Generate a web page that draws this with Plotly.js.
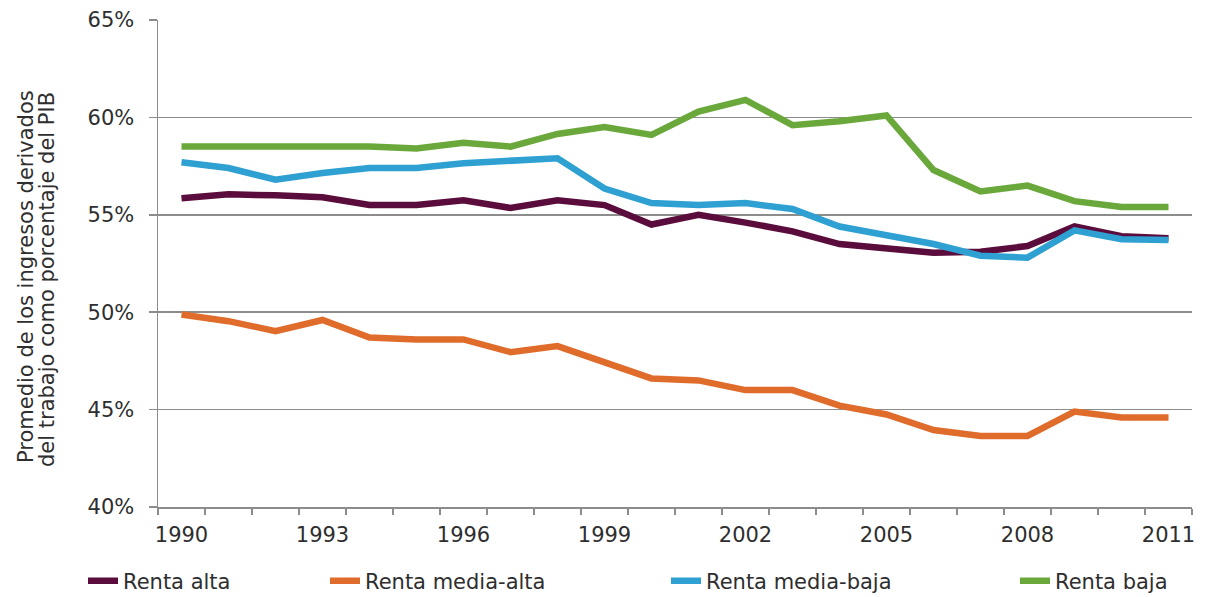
<!DOCTYPE html>
<html>
<head>
<meta charset="utf-8">
<script src="https://cdn.plot.ly/plotly-3.0.1.min.js"></script>
<style>html,body{margin:0;padding:0;background:#fff;}#chart{width:1207px;height:597px;}</style>
</head>
<body>
<div id="chart"></div>
<script>
var years = [1990,1991,1992,1993,1994,1995,1996,1997,1998,1999,2000,2001,2002,2003,2004,2005,2006,2007,2008,2009,2010,2011];
var rentaAlta = [55.85,56.05,56.0,55.9,55.5,55.5,55.75,55.35,55.75,55.5,54.5,55.0,54.6,54.15,53.5,53.25,53.05,53.1,53.4,54.4,53.9,53.8];
var rentaMediaAlta = [49.88,49.54,49.03,49.6,48.7,48.6,48.6,47.95,48.26,47.4,46.6,46.5,46.0,46.0,45.2,44.75,43.95,43.65,43.65,44.9,44.6,44.6];
var rentaMediaBaja = [57.7,57.4,56.8,57.15,57.4,57.4,57.65,57.75,57.9,56.35,55.6,55.5,55.6,55.3,54.4,53.95,53.5,52.9,52.8,54.2,53.75,53.7];
var rentaBaja = [58.5,58.5,58.5,58.5,58.5,58.4,58.7,58.5,59.15,59.5,59.1,60.3,60.9,59.6,59.8,60.1,57.3,56.2,56.5,55.7,55.4,55.4];
var seriesNames = ["Renta alta","Renta media-alta","Renta media-baja","Renta baja"];
var xTickVals = [1990,1993,1996,1999,2002,2005,2008,2011];
var yTickVals = [40,45,50,55,60,65];
var yTickText = ["40%","45%","50%","55%","60%","65%"];
var yTitleLines = ["Promedio de los ingresos derivados","del trabajo como porcentaje del PIB"];

var colors = ["#5a0c3c","#e06c2c","#2ea0d2","#6aa83c"];
var seriesData = [rentaAlta, rentaMediaAlta, rentaMediaBaja, rentaBaja];
var legendIds = ["legend","legend2","legend3","legend4"];

var traces = seriesData.map(function(d,i){
  return {x: years, y: d, name: seriesNames[i], type:'scatter', mode:'lines',
    line:{color:colors[i], width:6.5}, legend: legendIds[i]};
});

var fam = '"DejaVu Sans", Verdana, sans-serif';
var font = {family:fam, size:21, color:'#2e2e2e'};
var plotL = 158, plotR = 1192, plotW = plotR - plotL, plotT = 20, plotB = 507, plotH = plotB - plotT;
function lx(px){ return (px - plotL)/plotW; }
function ly(py){ return (plotB - py)/plotH; }
var legY = ly(581);
function leg(px){
  return {orientation:'h', x: lx(px), xanchor:'left', y: legY, yanchor:'middle',
    font: font, bgcolor:'rgba(0,0,0,0)', itemwidth:30};
}
var textStarts = [125, 367, 708, 1057];

var annotations = [
  {text: yTitleLines[0], x: lx(26), y: ly(277)},
  {text: yTitleLines[1], x: lx(47), y: ly(280)}
].map(function(a){
  return {text:a.text, x:a.x, y:a.y, xref:'paper', yref:'paper', xanchor:'center', yanchor:'middle',
    textangle:-90, showarrow:false, font:{family:fam, size:21, color:'#2e2e2e'}};
});

var layout = {
  width:1207, height:597,
  margin:{l:plotL, r:1207-plotR, t:plotT, b:597-plotB, autoexpand:false},
  paper_bgcolor:'#fff', plot_bgcolor:'#fff',
  font: font,
  showlegend:true,
  legend: leg(textStarts[0]-42),
  legend2: leg(textStarts[1]-42),
  legend3: leg(textStarts[2]-42),
  legend4: leg(textStarts[3]-42),
  annotations: annotations,
  xaxis:{
    range:[1989.5, 2011.5], tickmode:'array', tickvals:xTickVals,
    ticks:'', showgrid:false, zeroline:false,
    showline:true, linecolor:'#8c8c8c', linewidth:1.5,
    tickfont: font, ticklabelstandoff: 8,
    minor:{tick0:1989.5, dtick:1, ticks:'outside', ticklen:6, tickcolor:'#8c8c8c', tickwidth:1.2, showgrid:false}
  },
  yaxis:{
    range:[40,65], tickmode:'array', tickvals:yTickVals, ticktext:yTickText,
    showgrid:true, gridcolor:'#8c8c8c', gridwidth:1.5, zeroline:false,
    showline:true, linecolor:'#8c8c8c', linewidth:1.5,
    ticks:'outside', ticklen:8, tickcolor:'#8c8c8c', tickwidth:1.5,
    tickfont: font, ticklabelstandoff: 10
  }
};

Plotly.newPlot('chart', traces, layout, {displayModeBar:false, staticPlot:true});
</script>
</body>
</html>
